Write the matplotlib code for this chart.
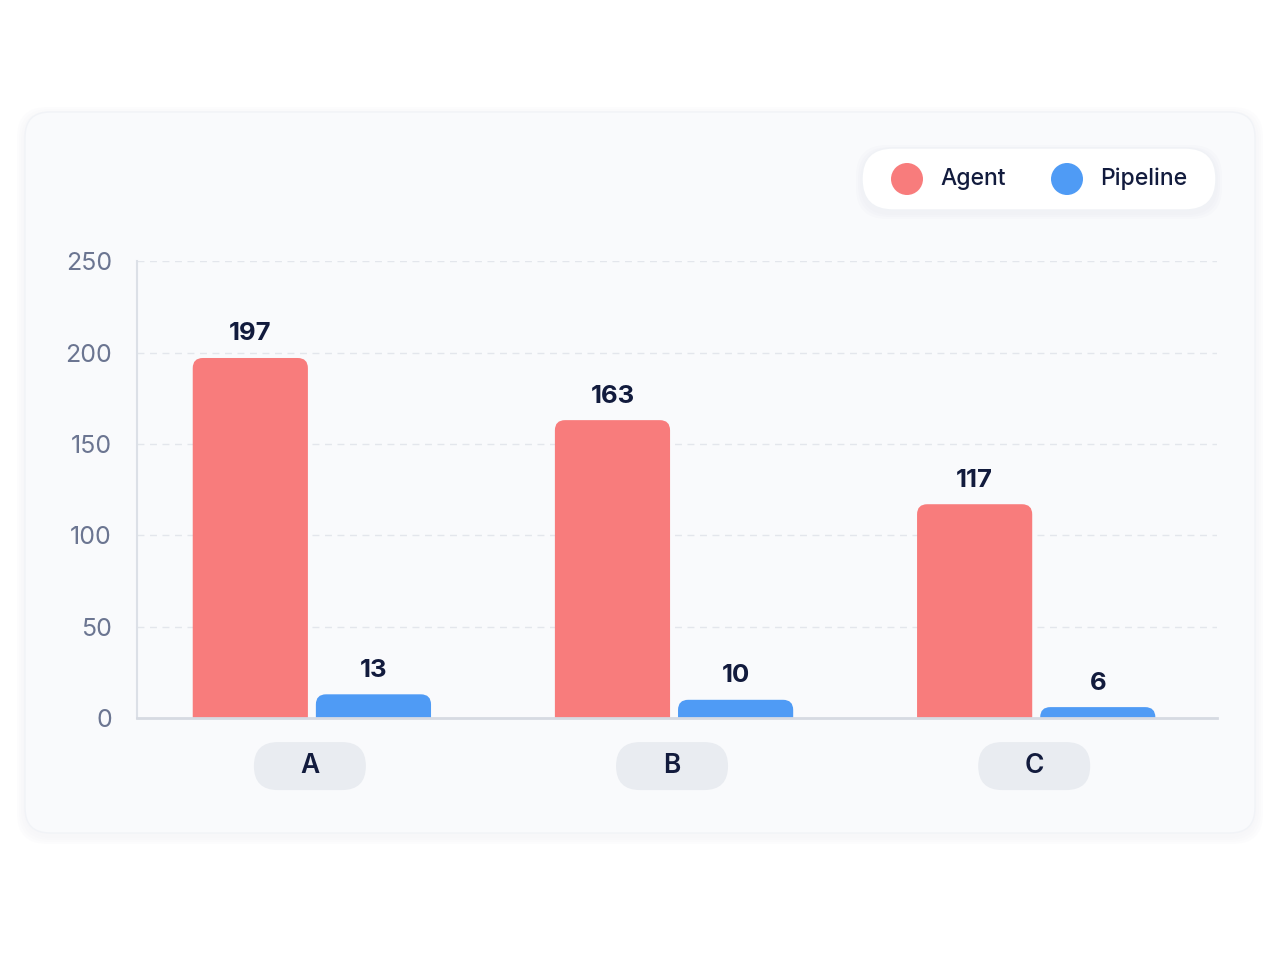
import matplotlib.pyplot as plt
from matplotlib.patches import FancyBboxPatch, Circle
from matplotlib.transforms import ScaledTranslation
import numpy as np

plt.rcParams['font.family'] = ['Inter', 'DejaVu Sans']

categories = ['A', 'B', 'C']
agent = [197, 163, 117]
pipeline = [13, 10, 6]
series_names = ['Agent', 'Pipeline']
colors = ['#F87C7C', '#4F9BF5']
yticks = [0, 50, 100, 150, 200, 250]

TEXT = '#121B3D'
TICK = '#6B7591'

fig = plt.figure(figsize=(12.8, 9.6), dpi=100)
fig.patch.set_facecolor('#FFFFFF')
inch = fig.dpi_scale_trans

# card with soft shadow (behind the axes)
for i, a in enumerate([0.02, 0.016, 0.012, 0.008]):
    g = 0.08 - i * 0.02
    fig.patches.append(FancyBboxPatch((0.25 - g, 1.27 - g - 0.03), 12.3 + 2 * g, 7.21 + 2 * g,
                                      boxstyle='round,pad=0,rounding_size=0.3',
                                      transform=inch, fc='#8090B0', ec='none', alpha=a, zorder=-3))
fig.patches.append(FancyBboxPatch((0.25, 1.27), 12.3, 7.21,
                                  boxstyle='round,pad=0,rounding_size=0.25',
                                  transform=inch, fc='#F9FAFC', ec='#F1F3F7', lw=1, zorder=-2))

# legend pill
for i, a in enumerate([0.025, 0.02, 0.015]):
    g = 0.06 - i * 0.02
    fig.patches.append(FancyBboxPatch((8.62 - g, 7.5 - g - 0.03), 3.54 + 2 * g, 0.62 + 2 * g,
                                      boxstyle='round,pad=0,rounding_size=0.31',
                                      transform=inch, fc='#8090B0', ec='none', alpha=a, zorder=1))
fig.patches.append(FancyBboxPatch((8.62, 7.5), 3.54, 0.62,
                                  boxstyle='round,pad=0,rounding_size=0.31',
                                  transform=inch, fc='#FFFFFF', ec='#F0F2F6', lw=1, zorder=1))
for x0, name, c in zip([9.07, 10.67], series_names, colors):
    fig.patches.append(Circle((x0, 7.81), 0.16, transform=inch, fc=c, ec='none', zorder=2))
    fig.text(x0 + 0.33, 7.81, name, transform=inch, fontsize=16.5, color=TEXT,
             va='center', ha='left', fontweight='medium', zorder=3)

ax = fig.add_axes([0.107, 0.252, 0.844, 0.476])
ax.patch.set_visible(False)

x = np.arange(len(categories))
w = 0.318
off = 0.17
bars_a = ax.bar(x - off, agent, w, color='none')
bars_p = ax.bar(x + off, pipeline, w, color='none')

# rounded tops: 1 x-unit ~ 362px, 1 y-unit ~ 1.83px
r = 0.028
aspect = 198
for bars, c, vals in [(bars_a, colors[0], agent), (bars_p, colors[1], pipeline)]:
    for b, v in zip(bars, vals):
        bx, bw, bh = b.get_x(), b.get_width(), b.get_height()
        p = FancyBboxPatch((bx, -12), bw, bh + 12,
                           boxstyle=f'round,pad=0,rounding_size={r}',
                           mutation_aspect=aspect, fc=c, ec='none', zorder=3)
        ax.add_patch(p)
        ax.annotate(str(v), (bx + bw / 2, bh), xytext=(0, 9), textcoords='offset points',
                    ha='center', va='bottom', fontsize=18.5, fontweight='bold', color=TEXT)

ax.set_xlim(-0.483, 2.5)
ax.set_ylim(0, 250)
ax.set_yticks(yticks)
ax.set_yticklabels([str(t) for t in yticks], fontsize=18, color=TICK)
ax.tick_params(axis='y', length=0, pad=18)
ax.set_xticks([])

for t in yticks[1:]:
    ax.axhline(t, color='#E3E6EC', lw=1, ls=(0, (5, 4)), zorder=1)

for s in ['top', 'right']:
    ax.spines[s].set_visible(False)
ax.spines['left'].set_color('#DCE0E7')
ax.spines['left'].set_linewidth(1.5)
ax.spines['bottom'].set_color('#D6DAE2')
ax.spines['bottom'].set_linewidth(2)
ax.spines['bottom'].set_zorder(4)

# category pills under the axis
for xi, cat in zip(x, categories):
    tr = inch + ScaledTranslation(xi, 0, ax.transData)
    fig.patches.append(FancyBboxPatch((-0.58, -0.72), 1.12, 0.48,
                                      boxstyle='round,pad=0,rounding_size=0.24',
                                      transform=tr, fc='#E9ECF1', ec='none', zorder=2))
    fig.text(-0.02, -0.48, cat, transform=tr, fontsize=19, fontweight='semibold',
             color=TEXT, ha='center', va='center', zorder=3)

fig.savefig('out.png', dpi=100)
